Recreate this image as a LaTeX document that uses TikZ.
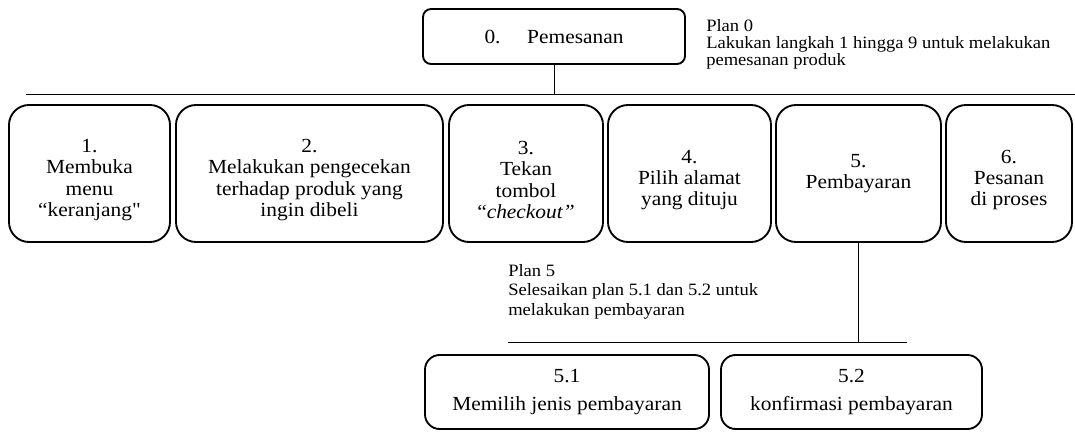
\documentclass[tikz,border=0pt]{standalone}
\usepackage{fontspec}
\setmainfont{Liberation Serif}[FakeStretch=1.07, Ligatures=TeXOff]
\newcommand{\topgap}{\rule{0pt}{19.5pt}}
\begin{document}
\begin{tikzpicture}[x=0.75pt, y=-0.75pt,
  taskbox/.style={draw, line width=1.4pt, align=center, inner sep=0pt,
    font=\fontsize{15}{16}\selectfont},
  goalbox/.style={taskbox, rounded corners=6pt, minimum width=196.5pt, minimum height=41.25pt},
  subbox/.style={taskbox, rounded corners=15pt, minimum height=102.75pt},
  subsubbox/.style={taskbox, rounded corners=11pt, minimum height=55.5pt,
    font=\fontsize{15}{21}\selectfont},
  plantext/.style={anchor=north west, align=left, inner sep=0pt},
  barline/.style={line width=0.75pt}]
  \useasboundingbox (0,0) rectangle (1075,432);
  \node[goalbox] (t0) at (554,36.5) {0.\hspace{20pt}Pemesanan};
  \node[plantext, font=\fontsize{13}{12.75}\selectfont] (p0) at (706,19)
    {Plan 0\\Lakukan langkah 1 hingga 9 untuk melakukan\\pemesanan produk};
  \coordinate (bar0a) at (26,94);
  \coordinate (bar0b) at (1075,94);
  \draw[barline] (bar0a) -- (bar0b);
  \draw[barline] (t0) -- (t0 |- bar0a);
  \node[subbox, minimum width=120.75pt] (t1) at (89.5,173.5)
    {\topgap 1.\\Membuka\\menu\\“keranjang"};
  \node[subbox, minimum width=200.25pt] (t2) at (309.5,173.5)
    {\topgap 2.\\Melakukan pengecekan\\terhadap produk yang\\ingin dibeli};
  \node[subbox, minimum width=115.5pt] (t3) at (526,173.5)
    {\topgap 3.\\Tekan\\tombol\\“\textit{checkout”}};
  \node[subbox, minimum width=122.25pt] (t4) at (689.5,173.5)
    {\topgap 4.\\Pilih alamat\\yang dituju};
  \node[subbox, minimum width=123.75pt] (t5) at (858.5,173.5)
    {5.\\Pembayaran};
  \node[subbox, minimum width=94.5pt] (t6) at (1009,173.5)
    {\topgap 6.\\Pesanan\\di proses};
  \node[plantext, font=\fontsize{13}{14.6}\selectfont] (p5) at (508,264)
    {Plan 5\\Selesaikan plan 5.1 dan 5.2 untuk\\melakukan pembayaran};
  \coordinate (bar5a) at (508,342);
  \coordinate (bar5b) at (907,342);
  \draw[barline] (bar5a) -- (bar5b);
  \draw[barline] (t5) -- (t5 |- bar5a);
  \node[subsubbox, minimum width=213pt] (t51) at (567,392)
    {5.1\\Memilih jenis pembayaran};
  \node[subsubbox, minimum width=195.75pt] (t52) at (851.5,392)
    {5.2\\konfirmasi pembayaran};
\end{tikzpicture}
\end{document}
